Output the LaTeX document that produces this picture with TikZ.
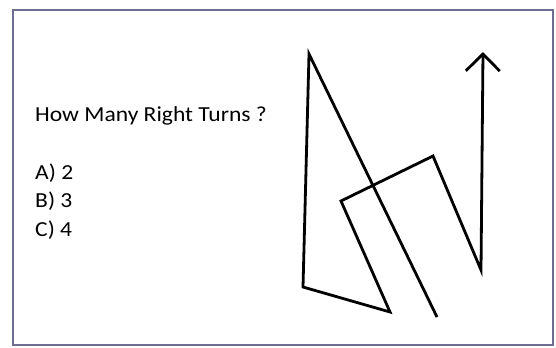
\documentclass[tikz,border=0pt]{standalone}
\usepackage{fontspec}
\setmainfont{Carlito}[FakeStretch=1.1]
\usetikzlibrary{arrows.meta, positioning}
\definecolor{framegray}{HTML}{6E6E93}

\begin{document}
\begin{tikzpicture}[x=1bp, y=-1bp,
  txt/.style={anchor=base west, inner sep=0pt, font=\fontsize{21.5}{26}\selectfont},
  route/.style={line width=2.8bp, draw=black}]
  \useasboundingbox (0,0) rectangle (556,347);
  \draw[framegray, line width=2bp] (13,10) rectangle (553,345);
  % question and choices
  \node[txt] (question) at (35,121) {How Many Right Turns ?};
  \node[txt] (optA) at (35,179.3) {A) 2};
  \node[txt] (optB) at (35,207.7) {B) 3};
  \node[txt] (optC) at (35,236.2) {C) 4};
  % the route
  \coordinate (start) at (437,317);
  \coordinate (t1) at (309,54);
  \coordinate (t2) at (303,287);
  \coordinate (t3) at (390,312);
  \coordinate (t4) at (341,201);
  \coordinate (t5) at (433,156);
  \coordinate (t6) at (481,270);
  \coordinate (goal) at (483,52);
  \draw[route, -{Straight Barb[length=17bp, width=34bp]}]
    (start) -- (t1) -- (t2) -- (t3) -- (t4) -- (t5) -- (t6) -- (goal);
\end{tikzpicture}
\end{document}
